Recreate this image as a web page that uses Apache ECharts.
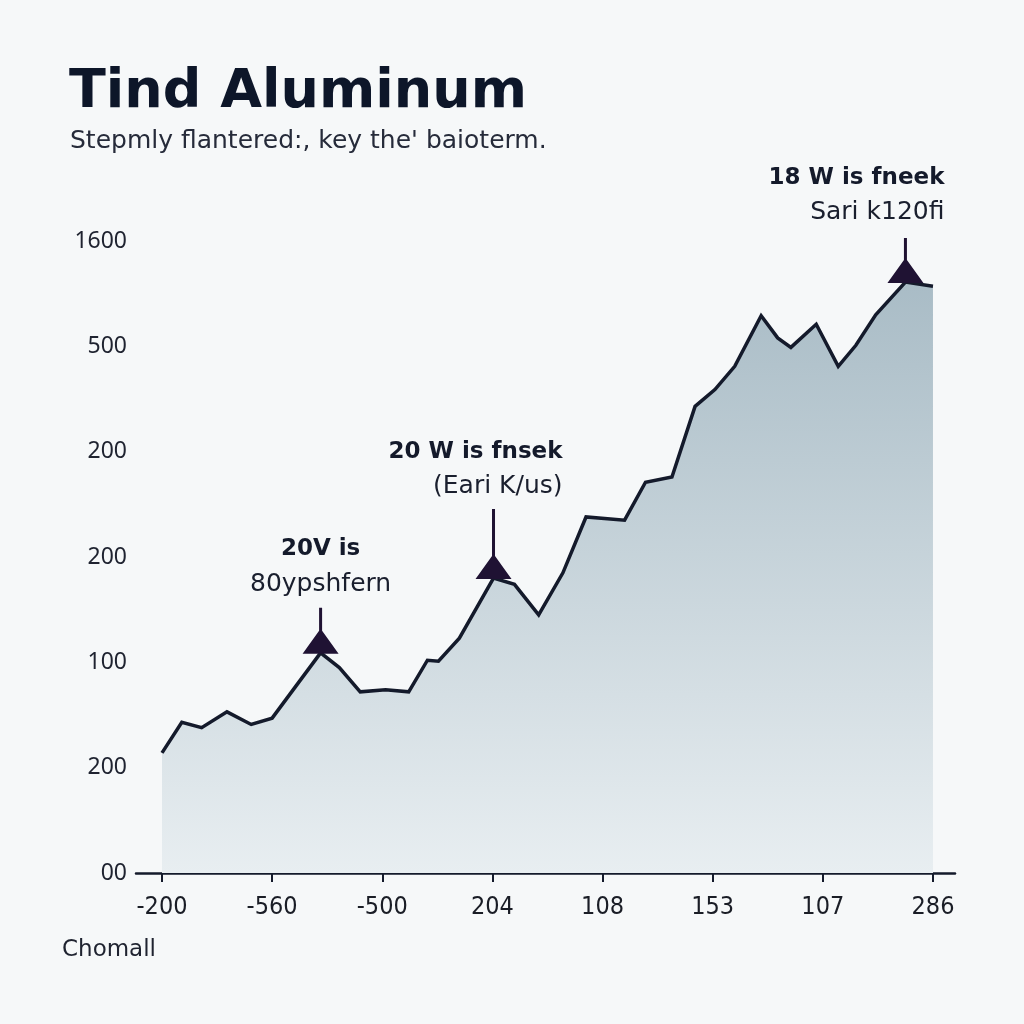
<!DOCTYPE html>
<html>
<head>
<meta charset="utf-8">
<script src="https://cdn.jsdelivr.net/npm/echarts@6/dist/echarts.min.js"></script>
<style>
html,body{margin:0;padding:0;background:#f6f8f9;}
#c{width:1024px;height:1024px;}
</style>
</head>
<body>
<div id="c"></div>
<script>
// ---- data ----
var titleText = 'Tind Aluminum';
var subtitleText = "Stepmly flantered:, key the' baioterm.";
var footerText = 'Chomall';
var xTickLabels = ['-200', '-560', '-500', '204', '108', '153', '107', '286'];
var yTickLabels = ['00', '200', '100', '200', '200', '500', '1600'];
var xs = [0, 0.18, 0.36, 0.59, 0.81, 1.00, 1.44, 1.61, 1.80, 2.03, 2.24, 2.41, 2.51, 2.70, 3.01, 3.20, 3.42, 3.64, 3.85, 4.20, 4.39, 4.63, 4.84, 5.02, 5.20, 5.44, 5.59, 5.71, 5.94, 6.14, 6.30, 6.48, 6.75, 7.00];
var ys = [1.14, 1.43, 1.38, 1.53, 1.41, 1.47, 2.09, 1.95, 1.72, 1.74, 1.72, 2.02, 2.01, 2.23, 2.80, 2.74, 2.45, 2.85, 3.38, 3.35, 3.71, 3.76, 4.43, 4.59, 4.81, 5.29, 5.08, 4.99, 5.21, 4.81, 5.01, 5.30, 5.61, 5.57];
var annotIdx = [6, 14, 32];
var annotBold = ['20V is', '20 W is fnsek', '18 W is fneek'];
var annotSub = ['80ypshfern', '(Eari K/us)', 'Sari k120fi'];

var points = xs.map(function (x, i) { return [x, ys[i]]; });

function markerPath(stem) {
  var h = stem + 23;
  return 'path://M16.5,0 L19.5,0 L19.5,' + stem + ' L36,' + h + ' L0,' + h + ' L16.5,' + stem + ' Z';
}
var stems = [23, 47, 22];
var labelPos = [[18, -6], [87, -5], [57, -8]];
var labelAlign = ['center', 'right', 'right'];

var markData = annotIdx.map(function (idx, k) {
  var h = stems[k] + 23;
  return {
    coord: [xs[idx], ys[idx]],
    symbol: markerPath(stems[k]),
    symbolSize: [36, h],
    symbolOffset: [0, -h / 2 + 1],
    symbolKeepAspect: false,
    itemStyle: { color: '#1f1233' },
    label: {
      show: true,
      position: labelPos[k],
      align: labelAlign[k],
      verticalAlign: 'bottom',
      formatter: '{b|' + annotBold[k] + '}\n{r|' + annotSub[k] + '}',
      rich: {
        b: { fontFamily: 'DejaVu Sans', fontWeight: 'bold', fontSize: 23, color: '#141a2b', lineHeight: 35, align: labelAlign[k] },
        r: { fontFamily: 'DejaVu Sans', fontWeight: 'normal', fontSize: 25, color: '#1a1f2e', lineHeight: 35, align: labelAlign[k] }
      }
    }
  };
});

var chart = echarts.init(document.getElementById('c'), null, { renderer: 'canvas' });
chart.setOption({
  backgroundColor: '#f6f8f9',
  animation: false,
  graphic: [
    { type: 'text', left: 69, top: 66, style: { text: titleText, fontFamily: 'DejaVu Sans', fontWeight: 'bold', fontSize: 54, fill: '#0d1629' } },
    { type: 'text', left: 70, top: 129, style: { text: subtitleText, fontFamily: 'DejaVu Sans', fontWeight: 'normal', fontSize: 25, fill: '#262b3a' } },
    { type: 'text', left: 62, top: 939, style: { text: footerText, fontFamily: 'DejaVu Sans', fontWeight: 'normal', fontSize: 23, fill: '#1f2330' } }
  ],
  grid: { left: 136, right: 69, top: 241, bottom: 151 },
  xAxis: {
    type: 'value',
    min: -0.236,
    max: 7.2,
    splitLine: { show: false },
    axisLine: { show: true, onZero: false, lineStyle: { color: '#141a2b', width: 2.5 } },
    axisTick: { show: true, length: 9, customValues: [0, 1, 2, 3, 4, 5, 6, 7], lineStyle: { color: '#141a2b', width: 2 } },
    axisLabel: {
      customValues: [0, 1, 2, 3, 4, 5, 6, 7],
      margin: 22,
      fontFamily: 'DejaVu Sans Condensed, DejaVu Sans',
      fontSize: 25,
      color: '#1a1d26',
      formatter: function (v) { return xTickLabels[Math.round(v)]; }
    }
  },
  yAxis: {
    type: 'value',
    min: 0,
    max: 6,
    interval: 1,
    splitLine: { show: false },
    axisLine: { show: false },
    axisTick: { show: false },
    axisLabel: {
      margin: 9,
      fontFamily: 'Noto Sans',
      fontSize: 23,
      color: '#1f2330',
      formatter: function (v) { return yTickLabels[Math.round(v)]; }
    }
  },
  series: [{
    type: 'line',
    data: points,
    symbol: 'none',
    lineStyle: { color: '#141a2b', width: 3.5, join: 'miter' },
    areaStyle: {
      color: new echarts.graphic.LinearGradient(0, 0, 0, 1, [
        { offset: 0, color: '#a9bcc6' },
        { offset: 1, color: '#e8eef1' }
      ]),
      opacity: 1
    },
    z: 3,
    markPoint: { data: markData, z: 5 }
  }]
});
</script>
</body>
</html>
